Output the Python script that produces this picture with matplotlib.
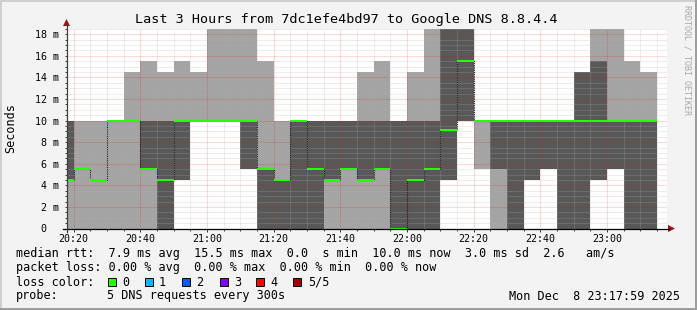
import matplotlib
matplotlib.use("Agg")
import matplotlib.pyplot as plt
from matplotlib.patches import Rectangle, Polygon
from matplotlib.lines import Line2D
from matplotlib.ticker import MultipleLocator, FixedLocator

plt.rcParams["font.family"] = ["DejaVu Sans Mono"]

W, H = 697, 310

title = "Last 3 Hours from 7dc1efe4bd97 to Google DNS 8.8.4.4"

# 5-minute bins (start time of each bin)
bin_start = ["20:15", "20:20", "20:25", "20:30", "20:35", "20:40", "20:45", "20:50", "20:55",
             "21:00", "21:05", "21:10", "21:15", "21:20", "21:25", "21:30", "21:35", "21:40",
             "21:45", "21:50", "21:55", "22:00", "22:05", "22:10", "22:15", "22:20", "22:25",
             "22:30", "22:35", "22:40", "22:45", "22:50", "22:55", "23:00", "23:05", "23:10"]

# sorted ping round-trip times per bin (ms)
ping1 = [0, 0, 0, 0, 0, 0, 0, 4.5, 10, 10, 10, 5.5, 0, 0, 0, 0, 0, 0,
         0, 0, 0, 0, 0, 4.5, 10, 5.5, 0, 0, 4.5, 5.5, 0, 0, 4.5, 5.5, 0, 0]
ping2 = [4.5, 5.5, 4.5, 10, 10, 5.5, 0, 4.5, 10, 10, 10, 5.5, 0, 0, 0, 0, 4.5, 5.5,
         4.5, 5.5, 0, 0, 0, 4.5, 10, 10, 5.5, 0, 4.5, 5.5, 0, 0, 4.5, 5.5, 0, 0]
median = [4.5, 5.5, 4.5, 10, 10, 5.5, 4.5, 10, 10, 10, 10, 10, 5.5, 4.5, 10, 5.5, 4.5, 5.5,
          4.5, 5.5, 0, 4.5, 5.5, 9.1, 15.5, 10, 10, 10, 10, 10, 10, 10, 10, 10, 10, 10]
ping4 = [10, 5.5, 4.5, 10, 10, 10, 10, 10, 10, 10, 10, 10, 5.5, 4.5, 10, 10, 10, 10,
         10, 10, 10, 10, 10, 19.5, 19.5, 10, 10, 10, 10, 10, 10, 14.5, 15.5, 10, 10, 10]
ping5 = [10, 10, 10, 10, 14.5, 15.5, 14.5, 15.5, 14.5, 19.5, 19.5, 19.5, 15.5, 10, 10, 10, 10, 10,
         14.5, 15.5, 10, 14.5, 19.5, 19.5, 19.5, 10, 10, 10, 10, 10, 10, 14.5, 19.5, 19.5, 15.5, 14.5]
loss = [0, 0, 0, 0, 0, 0, 0, 0, 0, 0, 0, 0, 0, 0, 0, 0, 0, 0,
        0, 0, 0, 0, 0, 0, 0, 0, 0, 0, 0, 0, 0, 0, 0, 0, 0, 0]

x_tick_labels = ["20:20", "20:40", "21:00", "21:20", "21:40", "22:00", "22:20", "22:40", "23:00"]
y_tick_values = [0, 2, 4, 6, 8, 10, 12, 14, 16, 18]
y_tick_labels = ["0  ", "2 m", "4 m", "6 m", "8 m", "10 m", "12 m", "14 m", "16 m", "18 m"]

loss_labels = ["0", "1", "2", "3", "4", "5/5"]
loss_colors = ["#26ff00", "#00b8ff", "#0059ff", "#7e00ff", "#ff0000", "#a10000"]

stats_line1 = "median rtt:  7.9 ms avg  15.5 ms max  0.0  s min  10.0 ms now  3.0 ms sd  2.6   am/s"
stats_line2 = "packet loss: 0.00 % avg  0.00 % max  0.00 % min  0.00 % now"
probe_text = "5 DNS requests every 300s"
date_text = "Mon Dec  8 23:17:59 2025"


def tmin(s):
    h, m = s.split(":")
    return int(h) * 60 + int(m) - 20 * 60


def fx(x):
    return x / W


def fy(y):
    return 1 - y / H


starts = [tmin(s) for s in bin_start]
step = 5
YMAX = 18.52
XMIN, XMAX = 17 + 59 / 60, 197 + 59 / 60

fig = plt.figure(figsize=(W / 100, H / 100), dpi=100, facecolor="#f3f3f3")

# 3D frame
fig.add_artist(Rectangle((0, fy(2)), 1, 2 / H, transform=fig.transFigure, color="#cfcfcf", lw=0))
fig.add_artist(Rectangle((0, 0), 2 / W, 1, transform=fig.transFigure, color="#cfcfcf", lw=0))
fig.add_artist(Rectangle((0, 0), 1, 2 / H, transform=fig.transFigure, color="#9e9e9e", lw=0))
fig.add_artist(Rectangle((1 - 2 / W, 0), 2 / W, 1, transform=fig.transFigure, color="#9e9e9e", lw=0))

ax = fig.add_axes([fx(67), fy(228.5), 600 / W, 200 / H])
ax.set_facecolor("white")
ax.set_xlim(XMIN, XMAX)
ax.set_ylim(0, YMAX)
for s in ax.spines.values():
    s.set_visible(False)

light = "#a4a4a4"
dark = "#585858"
ax.bar(starts, [b - a for a, b in zip(ping1, ping5)], bottom=ping1, width=step, align="edge",
       color=light, linewidth=0, antialiased=False, zorder=1)
ax.bar(starts, [b - a for a, b in zip(ping2, ping4)], bottom=ping2, width=step, align="edge",
       color=dark, linewidth=0, antialiased=False, zorder=1.1)

# median line
edges = starts + [starts[-1] + step]
ax.step(edges, median + [median[-1]], where="post", color="#202020", lw=0.8,
        linestyle=(0, (1, 1)), zorder=3)
sw = YMAX / 200
ax.bar(starts, [2 * sw for _ in median], bottom=[m - sw for m in median], width=step,
       align="edge", color=[loss_colors[l] for l in loss], linewidth=0, antialiased=False, zorder=4)

# grid
ax.set_axisbelow(False)
ax.xaxis.set_major_locator(FixedLocator([tmin(t) for t in x_tick_labels]))
ax.xaxis.set_minor_locator(MultipleLocator(5))
ax.set_xticklabels(x_tick_labels)
ax.set_yticks(y_tick_values)
ax.set_yticklabels(y_tick_labels)
ax.yaxis.set_minor_locator(MultipleLocator(0.5))
ax.grid(which="minor", color="#b0b0b0", alpha=0.45, lw=0.72, linestyle=(0, (1, 1)))
ax.grid(which="major", color="#ff0000", alpha=0.3, lw=0.72, linestyle=(0, (1, 1)))
ax.tick_params(which="both", direction="out", color="#404040", width=0.72, labelsize=7.2)
ax.tick_params(axis="y", which="major", length=1.5, pad=4)
ax.tick_params(axis="y", which="minor", length=1.5)
ax.tick_params(axis="x", which="major", length=2, pad=2)
ax.tick_params(axis="x", which="minor", length=1.5)

# axis lines and arrows
fig.add_artist(Line2D([fx(63), fx(669)], [fy(228.5), fy(228.5)], transform=fig.transFigure,
                      color="black", lw=0.9))
fig.add_artist(Line2D([fx(66.5), fx(66.5)], [fy(232), fy(24)], transform=fig.transFigure,
                      color="#404040", lw=0.9))
fig.add_artist(Polygon([(fx(668), fy(225)), (fx(675), fy(228.5)), (fx(668), fy(232))],
                       closed=True, transform=fig.transFigure, color="#a01010", lw=0))
fig.add_artist(Polygon([(fx(63), fy(26)), (fx(66.5), fy(19)), (fx(70), fy(26))],
                       closed=True, transform=fig.transFigure, color="#a01010", lw=0))

# texts
fig.text(fx(346.5), fy(19), title, ha="center", va="center", fontsize=9.7)
fig.text(fx(11), fy(128), "Seconds", rotation=90, ha="center", va="center", fontsize=8.5)
fig.text(fx(687), fy(5), "RRDTOOL / TOBI OETIKER", rotation=270, ha="center", va="top",
         fontsize=6, color="#a8a8a8")

fs = 8.5
fig.text(fx(16), fy(254), stats_line1, ha="left", va="center", fontsize=fs)
fig.text(fx(16), fy(268), stats_line2, ha="left", va="center", fontsize=fs)
fig.text(fx(16), fy(282), "loss color:", ha="left", va="center", fontsize=fs)
box_x = [108.4, 145, 182, 219.6, 256.4, 293.3]
lab_x = [122.7, 159, 196, 233.8, 270.7, 308]
for bx, lx, lab, col in zip(box_x, lab_x, loss_labels, loss_colors):
    fig.add_artist(Rectangle((fx(bx), fy(286)), 8 / W, 8 / H, transform=fig.transFigure,
                             facecolor=col, edgecolor="black", lw=0.7))
    fig.text(fx(lx), fy(282), lab, ha="left", va="center", fontsize=fs)
fig.text(fx(16), fy(296), "probe:", ha="left", va="center", fontsize=fs)
fig.text(fx(106.7), fy(296), probe_text, ha="left", va="center", fontsize=fs)
fig.text(fx(680), fy(296), date_text, ha="right", va="center", fontsize=fs)

fig.savefig("out.png", dpi=100, facecolor=fig.get_facecolor())
